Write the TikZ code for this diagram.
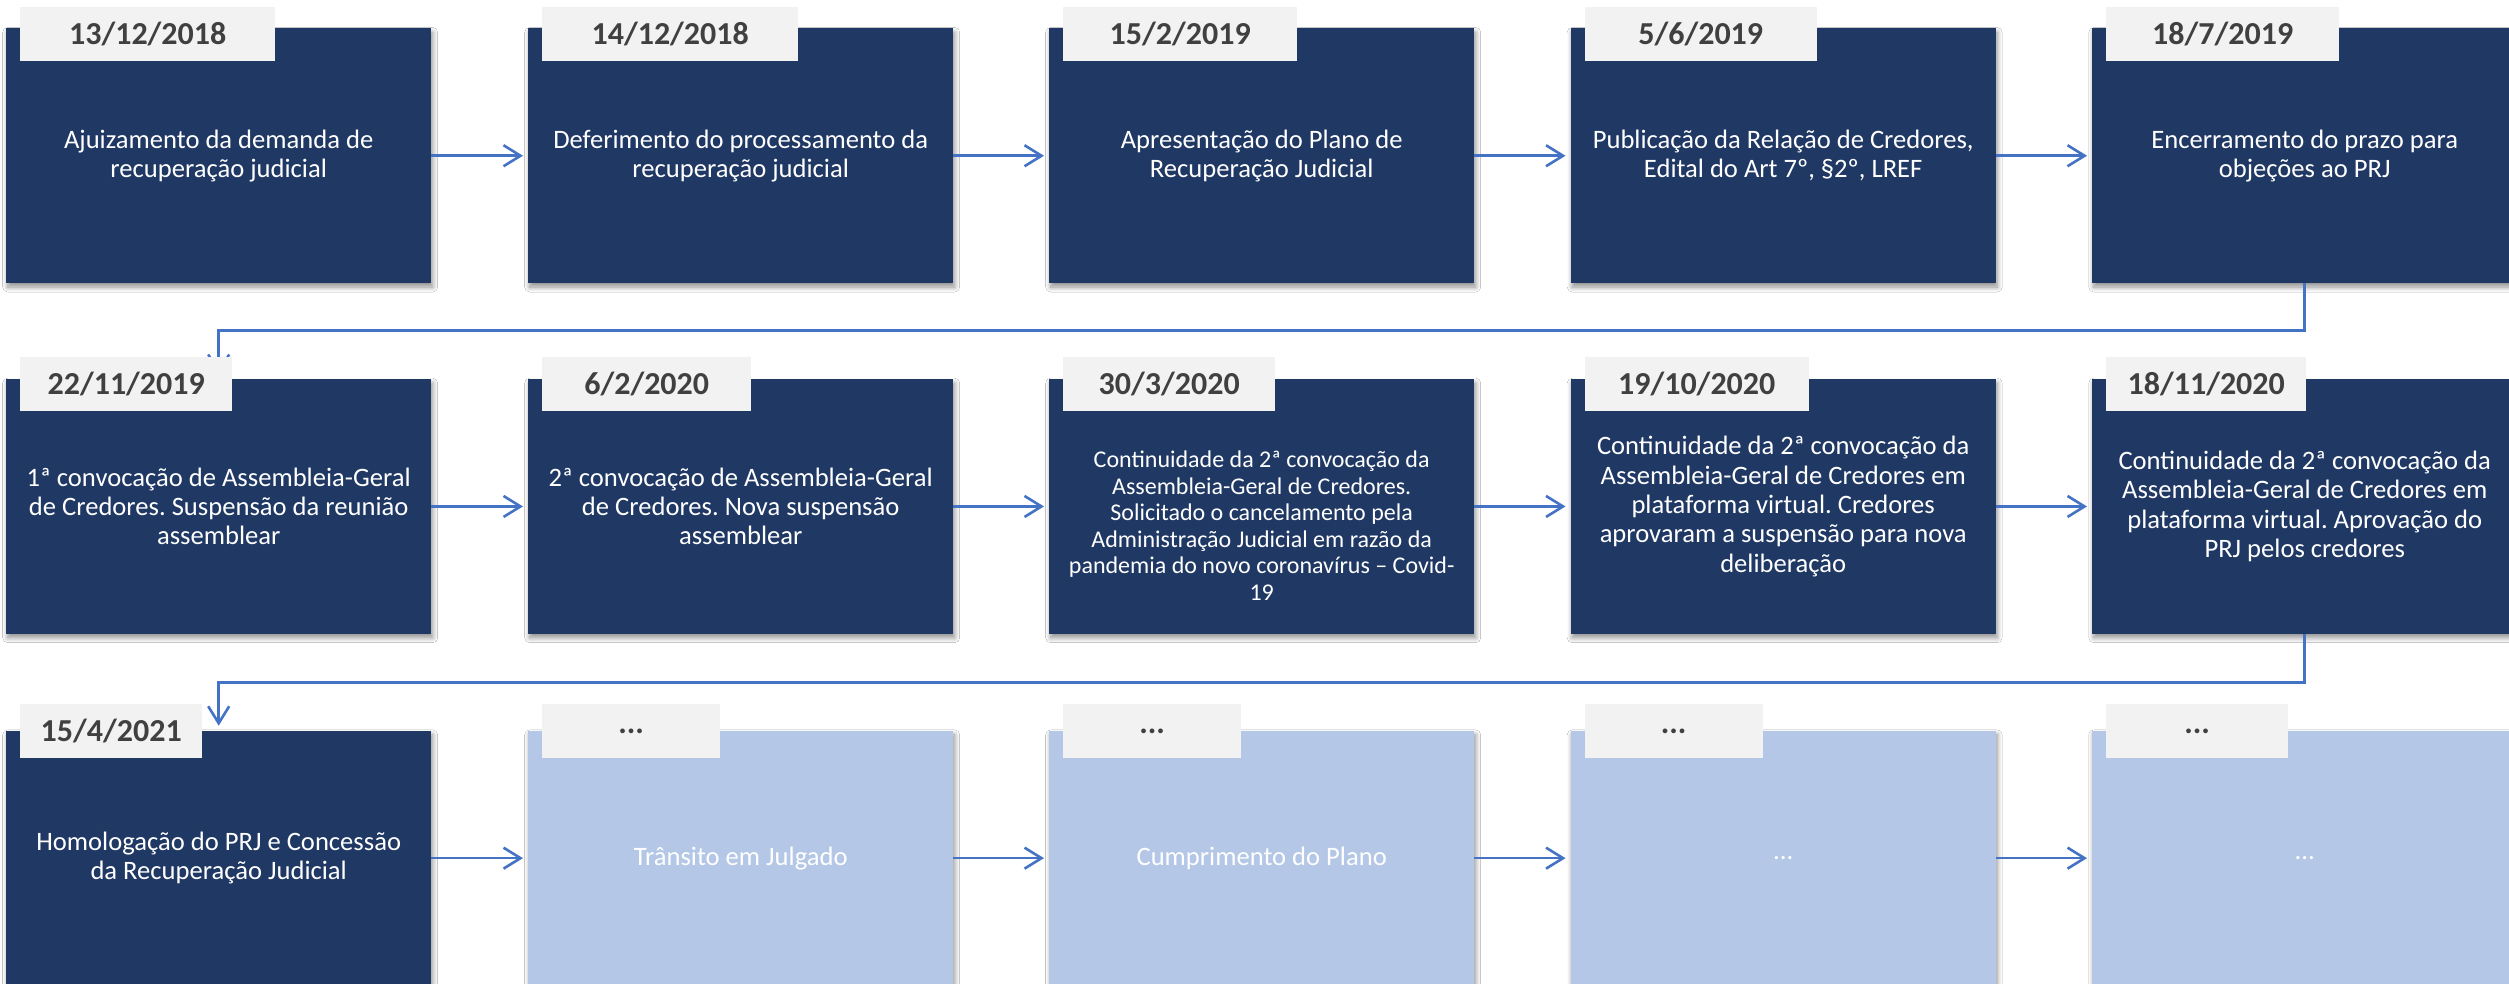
\documentclass[tikz,border=0pt]{standalone}
\usepackage{fontspec}
\setmainfont{Carlito}
\frenchspacing
\usetikzlibrary{arrows.meta,shadows.blur,calc}
\definecolor{navy}{HTML}{203864}
\definecolor{lightbox}{HTML}{B4C7E7}
\definecolor{tabfill}{HTML}{F2F2F2}
\definecolor{datetxt}{HTML}{404040}
\definecolor{arrowblue}{HTML}{4472C4}
\tikzset{
 evbox/.style={rectangle, anchor=north west, minimum width=425pt, minimum height=254.5pt, inner sep=0pt, fill=navy,
   blur shadow={shadow xshift=1.5pt, shadow yshift=-4pt, shadow blur radius=5pt, shadow blur steps=10, shadow opacity=45}},
 futbox/.style={evbox, fill=lightbox},
 bodytxt/.style={text=white, align=center, font=\fontsize{26.6}{29.3}\selectfont\frenchspacing, inner sep=0pt},
 smalltxt/.style={bodytxt, font=\fontsize{24}{26.5}\selectfont\frenchspacing},
 datetab/.style={rectangle, anchor=north west, fill=tabfill, minimum height=54pt, inner sep=0pt, text=datetxt, font=\fontsize{32}{38}\selectfont\bfseries},
 flow/.style={draw=arrowblue, line width=2.6pt, -{Straight Barb[length=17pt,width=21pt]}, shorten >=5pt},
}
\begin{document}
\begin{tikzpicture}[x=1pt,y=-1pt]
\clip (0,0) rectangle (2509,984);
\fill[white] (0,0) rectangle (2509,984);
% boxes row 1
\node[evbox] (a1) at (6,28.3) {};
\node[evbox] (a2) at (528,28.3) {};
\node[evbox] (a3) at (1049,28.3) {};
\node[evbox] (a4) at (1570.5,28.3) {};
\node[evbox] (a5) at (2092,28.3) {};
% row 2
\node[evbox] (b1) at (6,379) {};
\node[evbox] (b2) at (528,379) {};
\node[evbox] (b3) at (1049,379) {};
\node[evbox] (b4) at (1570.5,379) {};
\node[evbox] (b5) at (2092,379) {};
% row 3
\node[evbox] (c1) at (6,730.7) {};
\node[futbox] (c2) at (528,730.7) {};
\node[futbox] (c3) at (1049,730.7) {};
\node[futbox] (c4) at (1570.5,730.7) {};
\node[futbox] (c5) at (2092,730.7) {};
% texts
\node[bodytxt] (ta1) at (a1.center) {Ajuizamento da demanda de\\recuperação judicial};
\node[bodytxt] (ta2) at (a2.center) {Deferimento do processamento da\\recuperação judicial};
\node[bodytxt] (ta3) at (a3.center) {Apresentação do Plano de\\Recuperação Judicial};
\node[bodytxt] (ta4) at (a4.center) {Publicação da Relação de Credores,\\Edital do Art 7º, §2º, LREF};
\node[bodytxt] (ta5) at (a5.center) {Encerramento do prazo para\\objeções ao PRJ};
\node[bodytxt] (tb1) at (b1.center) {1ª convocação de Assembleia-Geral\\de Credores. Suspensão da reunião\\assemblear};
\node[bodytxt] (tb2) at (b2.center) {2ª convocação de Assembleia-Geral\\de Credores. Nova suspensão\\assemblear};
\node[smalltxt] (tb3) at ($(b3.center)+(0,19)$) {Continuidade da 2ª convocação da\\Assembleia-Geral de Credores.\\Solicitado o cancelamento pela\\Administração Judicial em razão da\\pandemia do novo coronavírus – Covid-\\19};
\node[bodytxt] (tb4) at (b4.center) {Continuidade da 2ª convocação da\\Assembleia-Geral de Credores em\\plataforma virtual. Credores\\aprovaram a suspensão para nova\\deliberação};
\node[bodytxt] (tb5) at (b5.center) {Continuidade da 2ª convocação da\\Assembleia-Geral de Credores em\\plataforma virtual. Aprovação do\\PRJ pelos credores};
\node[bodytxt] (tc1) at (c1.center) {Homologação do PRJ e Concessão\\da Recuperação Judicial};
\node[bodytxt] (tc2) at (c2.center) {Trânsito em Julgado};
\node[bodytxt] (tc3) at (c3.center) {Cumprimento do Plano};
\node[bodytxt] (tc4) at (c4.center) {...};
\node[bodytxt] (tc5) at (c5.center) {...};
% connectors
\draw[flow] (a1.east) -- (a2.west);
\draw[flow] (a2.east) -- (a3.west);
\draw[flow] (a3.east) -- (a4.west);
\draw[flow] (a4.east) -- (a5.west);
\draw[flow] (b1.east) -- (b2.west);
\draw[flow] (b2.east) -- (b3.west);
\draw[flow] (b3.east) -- (b4.west);
\draw[flow] (b4.east) -- (b5.west);
\draw[flow] (c1.east) -- (c2.west);
\draw[flow] (c2.east) -- (c3.west);
\draw[flow] (c3.east) -- (c4.west);
\draw[flow] (c4.east) -- (c5.west);
\coordinate (j1) at (0,330.7);
\coordinate (j2) at (0,682.3);
\draw[flow] (a5.south) -- (a5.south |- j1) -| (b1.north);
\draw[flow] (b5.south) -- (b5.south |- j2) -| (c1.north);
% date tabs
\node[datetab, minimum width=255pt] (da1) at (20,6.7) {13/12/2018};
\node[datetab, minimum width=256pt] (da2) at (542,6.7) {14/12/2018};
\node[datetab, minimum width=234pt] (da3) at (1063,6.7) {15/2/2019};
\node[datetab, minimum width=232pt] (da4) at (1584.5,6.7) {5/6/2019};
\node[datetab, minimum width=233pt] (da5) at (2106,6.7) {18/7/2019};
\node[datetab, minimum width=212pt] (db1) at (20,356.5) {22/11/2019};
\node[datetab, minimum width=209pt] (db2) at (542,356.5) {6/2/2020};
\node[datetab, minimum width=212pt] (db3) at (1063,356.5) {30/3/2020};
\node[datetab, minimum width=224pt] (db4) at (1584.5,356.5) {19/10/2020};
\node[datetab, minimum width=200pt] (db5) at (2106,356.5) {18/11/2020};
\node[datetab, minimum width=182pt] (dc1) at (20,704) {15/4/2021};
\node[datetab, minimum width=178pt] (dc2) at (542,704) {...};
\node[datetab, minimum width=178pt] (dc3) at (1063,704) {...};
\node[datetab, minimum width=178pt] (dc4) at (1584.5,704) {...};
\node[datetab, minimum width=182pt] (dc5) at (2106,704) {...};
\end{tikzpicture}
\end{document}
